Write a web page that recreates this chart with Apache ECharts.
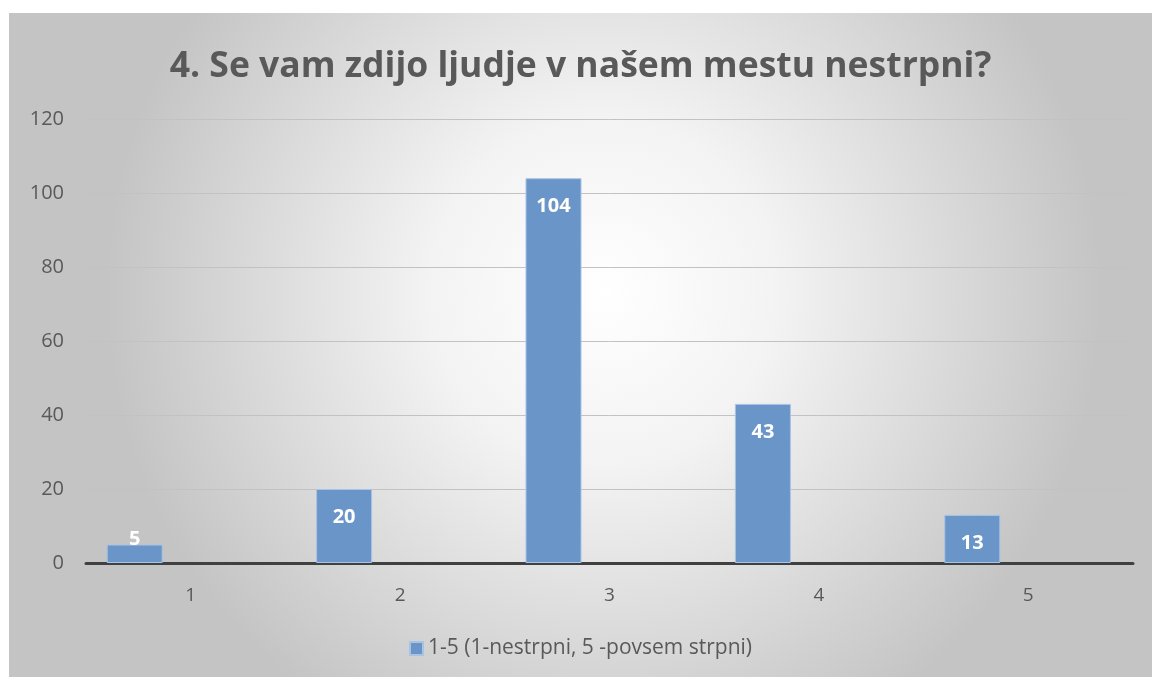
<!DOCTYPE html>
<html>
<head>
<meta charset="utf-8">
<script src="https://cdn.jsdelivr.net/npm/echarts@6/dist/echarts.min.js"></script>
<style>
	html, body { margin: 0; padding: 0; background: #ffffff; }
	#chart { position: absolute; left: 9px; top: 13px; width: 1143px; height: 664px; }
</style>
</head>
<body>
<div id="chart"></div>
<script>
	//   podatki
	var categories = ['1', '2', '3', '4', '5'];
	var values = [5, 20, 104, 43, 13];
	var seriesName = '1-5 (1-nestrpni, 5 -povsem strpni)';
	var yTicks = [0, 20, 40, 60, 80, 100, 120];

	var chart = echarts.init(document.getElementById('chart'));

	//   kratki stolpci dobijo napis spodaj
	var barData = values.map(function (v) {
		if (v < 10) {
			return { value: v, label: { position: 'insideBottom', distance: 14 } };
		}
		return v;
	});

	var option = {
		animation: false,
		backgroundColor: new echarts.graphic.RadialGradient(0.52, 0.42, 0.75, [
			{ offset: 0, color: '#ffffff' },
			{ offset: 0.35, color: '#f3f3f3' },
			{ offset: 1, color: '#c4c4c4' }
		]),
		title: {
			text: '4. Se vam zdijo ljudje v našem mestu nestrpni?',
			left: 'center',
			top: 31,
			padding: [5, 5, 5, 18],
			textStyle: {
				fontFamily: 'Open Sans',
				fontSize: 35.5,
				fontWeight: 'bold',
				color: '#595959'
			}
		},
		legend: {
			data: [seriesName],
			bottom: 13,
			left: 'center',
			itemWidth: 13,
			itemHeight: 13,
			itemGap: 4,
			icon: 'rect',
			textStyle: {
				fontFamily: 'Open Sans',
				fontSize: 21,
				color: '#595959'
			}
		},
		grid: {
			left: 77,
			right: 19,
			top: 106,
			bottom: 114,
			containLabel: false
		},
		xAxis: {
			type: 'category',
			data: categories,
			axisLine: { lineStyle: { color: '#404040', width: 3 } },
			axisTick: { show: false },
			axisLabel: {
				margin: 23,
				fontFamily: 'Open Sans',
				fontSize: 19,
				color: '#595959'
			}
		},
		yAxis: {
			type: 'value',
			min: yTicks[0],
			max: yTicks[yTicks.length - 1],
			interval: 20,
			axisLine: { show: false },
			axisTick: { show: false },
			splitLine: { lineStyle: { color: '#c2c2c2', width: 1 } },
			axisLabel: {
				margin: 22,
				fontFamily: 'Open Sans',
				fontSize: 20,
				color: '#595959'
			}
		},
		series: [{
			name: seriesName,
			type: 'bar',
			data: barData,
			barWidth: 56,
			barGap: '0%',
			itemStyle: {
				color: '#6a95c8',
				borderColor: '#a9c3e3',
				borderWidth: 1
			},
			label: {
				show: true,
				position: 'insideTop',
				distance: 18,
				fontFamily: 'Open Sans',
				fontSize: 20,
				fontWeight: 'bold',
				color: '#ffffff'
			}
		}, {
			name: 'prazno1',
			type: 'bar',
			data: [],
			barWidth: 56,
			barGap: '0%'
		}, {
			name: 'prazno2',
			type: 'bar',
			data: [],
			barWidth: 56,
			barGap: '0%'
		}]
	};

	chart.setOption(option);
</script>
</body>
</html>
